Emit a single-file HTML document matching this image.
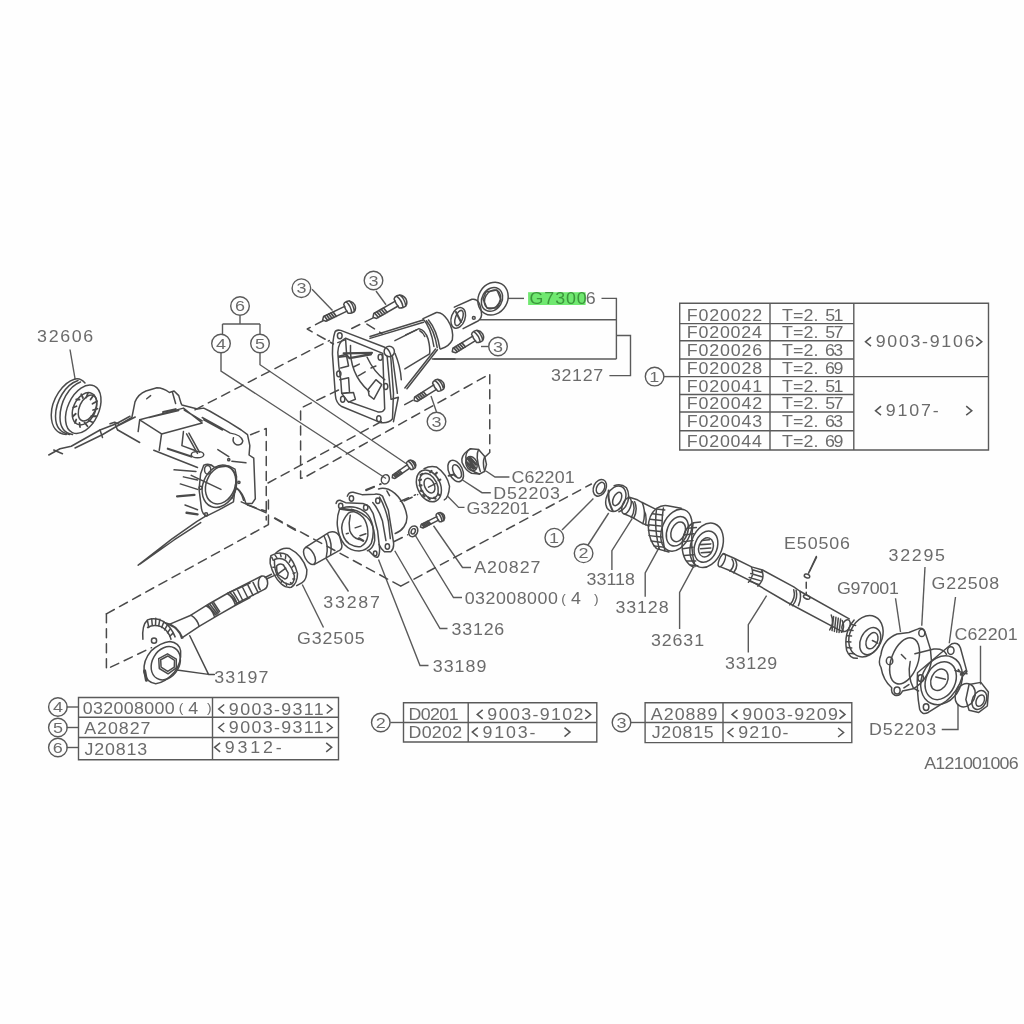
<!DOCTYPE html>
<html><head><meta charset="utf-8"><style>
html,body{margin:0;padding:0;background:#fff;}
svg{display:block;}
text{font-family:"Liberation Sans",sans-serif;}
.p *{vector-effect:non-scaling-stroke;}
</style></head><body>
<svg width="1024" height="1024" viewBox="0 0 1024 1024">
<rect width="1024" height="1024" fill="#fefefe"/>
<rect x="528.1" y="292.2" width="57.5" height="12.8" fill="#70e870"/>
<g fill="none" stroke="#5a5a5a" stroke-width="1.4">
<path d="M871.0,337.2 L865.5,341.8 L871.0,346.2" stroke="#555" stroke-width="1.5" fill="none"/>
<path d="M976.2,337.2 L981.8,341.8 L976.2,346.2" stroke="#555" stroke-width="1.5" fill="none"/>
<path d="M881.0,406.2 L875.5,410.8 L881.0,415.2" stroke="#555" stroke-width="1.5" fill="none"/>
<path d="M966.2,406.2 L971.8,410.8 L966.2,415.2" stroke="#555" stroke-width="1.5" fill="none"/>
<path d="M224.2,704.5 L218.7,709.0 L224.2,713.5" stroke="#555" stroke-width="1.5" fill="none"/>
<path d="M326.7,704.5 L332.2,709.0 L326.7,713.5" stroke="#555" stroke-width="1.5" fill="none"/>
<path d="M224.2,723.0 L218.7,727.5 L224.2,732.0" stroke="#555" stroke-width="1.5" fill="none"/>
<path d="M326.7,723.0 L332.2,727.5 L326.7,732.0" stroke="#555" stroke-width="1.5" fill="none"/>
<path d="M220.1,742.8 L214.6,747.3 L220.1,751.8" stroke="#555" stroke-width="1.5" fill="none"/>
<path d="M326.2,742.8 L331.7,747.3 L326.2,751.8" stroke="#555" stroke-width="1.5" fill="none"/>
<path d="M482.7,709.9 L477.2,714.4 L482.7,718.9" stroke="#555" stroke-width="1.5" fill="none"/>
<path d="M585.2,709.9 L590.7,714.4 L585.2,718.9" stroke="#555" stroke-width="1.5" fill="none"/>
<path d="M477.8,727.6 L472.3,732.1 L477.8,736.6" stroke="#555" stroke-width="1.5" fill="none"/>
<path d="M564.5,727.6 L570.0,732.1 L564.5,736.6" stroke="#555" stroke-width="1.5" fill="none"/>
<path d="M737.5,709.9 L732.0,714.4 L737.5,718.9" stroke="#555" stroke-width="1.5" fill="none"/>
<path d="M839.5,709.9 L845.0,714.4 L839.5,718.9" stroke="#555" stroke-width="1.5" fill="none"/>
<path d="M733.5,728.0 L728.0,732.5 L733.5,737.0" stroke="#555" stroke-width="1.5" fill="none"/>
<path d="M838.1,728.0 L843.6,732.5 L838.1,737.0" stroke="#555" stroke-width="1.5" fill="none"/>
<path d="M679.7,303.2H988.5V450H679.7Z"/>
<path d="M679.7,323.6H853.8"/>
<path d="M679.7,340.8H853.8"/>
<path d="M679.7,359H853.8"/>
<path d="M679.7,376.6H853.8"/>
<path d="M679.7,394.5H853.8"/>
<path d="M679.7,412H853.8"/>
<path d="M679.7,430.8H853.8"/>
<path d="M853.8,376.6H988.5"/>
<path d="M770,303.2V450"/>
<path d="M853.8,303.2V450"/>
<path d="M78.5,697.5H338.5V759.7H78.5Z"/>
<path d="M78.5,717.3H338.5"/>
<path d="M78.5,737.5H338.5"/>
<path d="M212.5,697.5V759.7"/>
<path d="M403.5,702.7H596.8V742H403.5Z"/>
<path d="M403.5,722.5H596.8"/>
<path d="M468.2,702.7V742"/>
<path d="M645.1,702.7H851.8V742.6H645.1Z"/>
<path d="M645.1,722.5H851.8"/>
<path d="M723,702.7V742.6"/>
<path d="M663.6,376.6H679.7"/>
<path d="M66.5,707H78.5"/>
<path d="M66.5,727.5H78.5"/>
<path d="M66.5,747.5H78.5"/>
<path d="M390.5,722.5H403.5"/>
<path d="M631,722.5H645.1"/>
<path d="M70,349.5L75,378.5"/>
<path d="M508,298.4H524"/>
<path d="M601.5,298.4H616.4V359"/>
<path d="M480,319.8H616.4"/>
<path d="M433.5,359H616.4"/>
<path d="M616.4,335.5H630.5V375.6H609.4"/>
<path d="M486,471L495,477H509.4"/>
<path d="M462.5,480L482,492.7H490.8"/>
<path d="M447.9,496.6L458.6,507.4H464.5"/>
<path d="M433.5,525.75L462.5,567.5H471"/>
<path d="M414.75,534.5L453.5,597.5H462"/>
<path d="M562,530L593.4,498.6"/>
<path d="M588,545L608.7,513"/>
<path d="M611.9,570V550.6L632.3,518.3"/>
<path d="M645.2,596.8V573L659.2,547.3"/>
<path d="M679.6,629V592.5L693.5,566.7"/>
<path d="M748.3,652.6V624.7L766.6,595.7"/>
<path d="M326,558.25L348.5,591.5"/>
<path d="M302.25,584.5L323.5,627.5"/>
<path d="M394.75,550.75L440,628.5H447.5"/>
<path d="M378.5,559.5L420,665.5H428.5"/>
<path d="M816.75,557L809.25,572"/>
<path d="M925,567L921.75,625.75"/>
<path d="M895.5,598.25L900.5,632"/>
<path d="M955.5,597L949.25,643.25"/>
<path d="M980.5,645.75V684.5"/>
<path d="M941.75,729.5H958V704.5"/>
<path d="M240,315.5V324"/>
<path d="M222.5,324H260"/>
<path d="M222.5,324V334"/>
<path d="M260,324V334"/>
<path d="M221,353V371L386,478.5"/>
<path d="M260,353V364.75L406,463.5"/>
<path d="M312,289.3L332.5,310.4"/>
<path d="M376,291L386,304.75"/>
<path d="M481,346.5H488.5"/>
<path d="M436.5,412L431,396"/>
<circle cx="301.4" cy="288.2" r="9.3"/>
<circle cx="373.5" cy="280.5" r="9.3"/>
<circle cx="498" cy="346.5" r="9.3"/>
<circle cx="436.5" cy="421.5" r="9.3"/>
<circle cx="240" cy="306" r="9.3"/>
<circle cx="221" cy="343.5" r="9.3"/>
<circle cx="260" cy="343.5" r="9.3"/>
<circle cx="654.6" cy="376.6" r="9.3"/>
<circle cx="554.3" cy="537.7" r="9.3"/>
<circle cx="583.6" cy="553.3" r="9.3"/>
<circle cx="57.9" cy="707" r="9.3"/>
<circle cx="57.9" cy="727.5" r="9.3"/>
<circle cx="57.9" cy="747.5" r="9.3"/>
<circle cx="380.8" cy="722.5" r="9.3"/>
<circle cx="621.5" cy="722.5" r="9.3"/>
</g>
<g fill="none" stroke="#4a4a4a" stroke-width="1.5" stroke-linejoin="round" stroke-linecap="round" class="p">
<symbol id="bolt" overflow="visible">
<path d="M0,0 L2.5,-2.8 L27,-2.8 M0,0 L2.5,2.8 L27,2.8"/>
<path d="M3.5,-2.6 L4.5,2.6 M6,-2.7 L7,2.7 M8.5,-2.7 L9.5,2.7 M11,-2.7 L12,2.7 M13.5,-2.7 L14.5,2.7" stroke-width="1.7"/>
<path d="M27,-5.2 Q28,-6.6 31,-6.6 L34,-5.8 Q37.2,-3 37.2,0.5 Q36.8,5 33.5,6.6 L30.5,6.6 Q28,6 27,5 Q26,0 27,-5.2 Z M30.5,-6.4 Q33.2,0 30.5,6.5 M33.8,-5.8 Q36.2,0 33.6,6.4"/>
</symbol>
<g transform="translate(0,320) scale(0.25)">
<ellipse cx="333" cy="357" rx="62" ry="103" transform="rotate(25 333 357)"/>
<ellipse cx="338" cy="355" rx="44" ry="68" transform="rotate(25 338 355)"/>
<ellipse cx="350" cy="352" rx="32" ry="55" transform="rotate(25 350 352)"/>
<path d="M300,236 C250,250 205,320 205,380 C205,430 230,455 265,458"/>
<path d="M312,242 C262,258 222,325 222,385 C222,430 245,452 278,458"/>
<path d="M322,248 C274,265 240,330 240,390 C240,432 258,452 290,458"/>
<path d="M300,236 C315,232 330,240 340,252"/>
<path d="M352,292 L345,310 M375,300 L362,318 M388,325 L370,335 M390,355 L372,360 M385,385 L365,385 M372,410 L355,402 M350,425 L338,410 M320,428 L318,412 M300,412 L305,398 M292,385 L303,375 M293,350 L306,345 M305,318 L318,318 M325,297 L332,312" stroke-width="1.8"/>
<path d="M195,540 L240,515 L285,505 L400,440 L465,415 L520,385"/>
<path d="M300,512 L409,459 L465,426 L541,388"/>
<path d="M215,520 L250,535 M400,440 L410,470 M460,415 L470,440"/>
</g>
<g transform="translate(110,380) scale(0.15625)">
<path d="M0,280 L30,270 L60,285 L140,240 L160,140 Q180,90 230,70 L300,50 Q340,50 380,80 L410,70 L440,100 L455,150 L460,160 L560,185 L600,180 L640,200 L760,270 L840,320 L880,350 L895,420 L890,480 L920,500 L930,760 L910,790 L870,790 Q850,720 810,690 Q790,740 780,760"/>
<path d="M400,80 L420,150"/>
<path d="M190,255 L470,180 L590,275 L330,345 Z M250,240 L440,195 M475,192 L590,262"/>
<path d="M340,205 L420,187" stroke-width="2.2"/>
<path d="M190,255 L180,330 M330,345 L315,450 M470,330 L460,420 L540,450"/>
<path d="M590,240 L700,300 L770,340 Q840,350 850,390 Q845,420 810,415 Q780,400 790,370 M600,255 L720,320"/>
<path d="M50,320 L190,400 M280,450 L560,560"/>
<path d="M490,345 L560,470 M505,340 L572,462"/>
<ellipse cx="560" cy="478" rx="40" ry="20"/>
<path d="M370,440 L520,490" stroke-width="2.2"/>
<path d="M410,575 L550,585 M450,665 L560,700 M480,800 L560,830 M470,620 L560,640"/>
<path d="M430,745 L540,735 M490,850 L560,860" stroke-width="2.4"/>
<ellipse cx="700" cy="680" rx="105" ry="140" transform="rotate(22 700 680)"/>
<ellipse cx="708" cy="672" rx="92" ry="125" transform="rotate(22 708 672)"/>
<path d="M600,545 Q640,530 670,560 L760,550 L800,570 L810,620 L790,780 L700,830 L620,870 Q590,860 585,820 L570,700 L580,600 Z"/>
<ellipse cx="625" cy="575" rx="20" ry="28"/>
<circle cx="580" cy="690" r="10"/>
<circle cx="615" cy="860" r="10"/>
<circle cx="825" cy="655" r="7"/>
<circle cx="760" cy="510" r="7"/>
<path d="M520,610 L710,700 M690,445 L760,490 M780,520 L870,530 M800,690 Q835,700 855,770 M840,780 L1000,850"/>
<path d="M900,350 L1000,310 L1000,896 M880,800 L1000,840" stroke-dasharray="9 6"/>
<path d="M235,120 L260,100" />
</g>
<g transform="translate(320,480) scale(0.09766)">
<path d="M200,300 Q170,380 178,470 Q190,590 250,660 Q310,725 400,728 Q480,725 525,650 Q555,560 540,470 Q520,380 470,335 Q400,275 300,275 Q230,280 200,300 Z"/>
<path d="M290,340 Q225,410 222,490 Q228,600 300,655 Q360,690 420,680 Q478,650 490,570 Q495,480 460,410 Q420,345 350,325 Q315,322 290,340 Z"/>
<path d="M320,300 Q450,330 515,420 Q565,510 560,620 Q545,700 485,725"/>
<path d="M310,360 Q290,440 305,520 Q330,590 400,610 M360,490 L420,470 M410,570 L470,550 M270,550 L290,545"/>
<path d="M215,295 L335,312 M398,598 L442,622" stroke-width="2.4"/>
<path d="M165,240 Q170,205 205,208 L262,232 L440,240 Q480,250 505,275 L545,345 L590,520 L610,700 Q612,770 590,790 Q560,795 545,770 L500,725"/>
<ellipse cx="212" cy="265" rx="22" ry="28"/>
<ellipse cx="468" cy="282" rx="22" ry="28"/>
<ellipse cx="565" cy="752" rx="18" ry="24"/>
<path d="M280,165 Q295,120 340,125 L430,150 L560,145 Q610,140 640,165 L700,310 L750,620 Q765,700 725,735 L660,735 Q620,700 605,660"/>
<ellipse cx="322" cy="190" rx="22" ry="28"/>
<ellipse cx="592" cy="212" rx="22" ry="28"/>
<ellipse cx="690" cy="680" rx="22" ry="28"/>
<path d="M540,230 Q600,300 640,420 L675,620 M610,175 Q670,280 700,420 L720,600"/>
<path d="M600,92 Q640,75 700,95 C800,140 872,250 890,370 C896,450 845,520 770,548 M685,112 L712,160"/>
<path d="M470,100 L620,40" stroke-dasharray="9 6"/>
<path d="M860,215 L1000,150" stroke-dasharray="9 6"/>
<path d="M760,630 L900,560" stroke-dasharray="9 6"/>
</g>
<g transform="translate(250,440) scale(0.21484)">
<path d="M258,500 L368,430 Q400,420 418,450 L428,492 Q428,512 408,518 L298,580"/>
<ellipse cx="277" cy="540" rx="22" ry="43" transform="rotate(-28 277 540)"/>
<path d="M345,448 Q368,490 355,545 M362,440 Q385,480 375,535"/>
<ellipse cx="760" cy="425" rx="20" ry="26" transform="rotate(25 760 425)"/>
<ellipse cx="760" cy="425" rx="9" ry="13" transform="rotate(25 760 425)"/>
<ellipse cx="630" cy="183" rx="18" ry="22" transform="rotate(25 630 183)"/>
<path d="M540,235 L610,205" stroke-dasharray="9 6"/>
<path d="M70,640 L100,625 M700,285 L770,255" stroke-dasharray="9 6"/>
</g>
<g transform="translate(410,445) scale(0.08789)">
<path d="M590,160 Q600,95 690,42 L780,52 L850,130 L870,220 L850,300 L790,330 L700,322 Q630,290 592,200 Z"/>
<path d="M690,42 Q620,80 640,180 Q660,290 790,330 M780,52 Q740,120 800,300 M850,130 Q820,200 850,300"/>
<ellipse cx="700" cy="212" rx="62" ry="85" transform="rotate(-22 700 212)"/>
<path d="M660,160 L740,260 M650,200 L720,270 M680,140 L750,220 M700,180 L690,250" stroke-width="2.5"/>
<ellipse cx="520" cy="295" rx="78" ry="130" transform="rotate(-25 520 295)"/>
<ellipse cx="535" cy="300" rx="42" ry="82" transform="rotate(-25 535 300)"/>
<path d="M440,350 L500,335 L520,355" stroke-width="2"/>
<ellipse cx="215" cy="465" rx="130" ry="190" transform="rotate(-25 215 465)"/>
<path d="M160,270 Q230,230 300,250 Q420,330 450,470 Q440,600 390,625"/>
<ellipse cx="215" cy="465" rx="95" ry="150" transform="rotate(-25 215 465)"/>
<ellipse cx="222" cy="462" rx="55" ry="88" transform="rotate(-25 222 462)"/>
<path d="M120,340 L140,330 M105,400 L125,395 M110,460 L130,460 M120,520 L140,525 M150,570 L165,585 M210,600 L225,615 M275,600 L290,610 M320,560 L335,570 M325,400 L345,395 M290,330 L305,315 M230,310 L245,295" stroke-width="2.2"/>
<path d="M210,480 L290,440" />
</g>
<g transform="translate(260,540) scale(0.078125)">
<path d="M140,200 Q250,140 350,190 Q440,270 480,430 Q480,560 400,605 Q330,615 270,560 Q170,470 130,300 Q128,230 140,200 Z"/>
<path d="M200,170 Q280,90 380,110 Q540,190 600,380 Q600,510 540,545 L470,585"/>
<path d="M185,250 Q260,215 330,265 Q410,340 440,460 Q440,560 380,570 Q300,560 230,470 Q180,380 185,250 Z"/>
<path d="M215,330 Q250,290 300,320 L360,420 Q360,490 320,500 L240,450 Q205,400 215,330 Z"/>
<path d="M235,430 L330,360"/>
<path d="M150,220 L170,260 M190,190 L215,225 M260,175 L270,215 M330,200 L325,240 M390,250 L375,285 M430,330 L410,350 M450,420 L425,430 M445,500 L420,500 M410,560 L390,545 M340,580 L335,555 M270,540 L285,520 M200,450 L225,440 M165,350 L190,350" stroke-width="1.5"/>
</g>
<g transform="translate(580,470) scale(0.13672)">
<ellipse cx="145" cy="130" rx="45" ry="64" transform="rotate(25 145 130)"/>
<ellipse cx="150" cy="132" rx="28" ry="44" transform="rotate(25 150 132)"/>
<ellipse cx="262" cy="210" rx="68" ry="98" transform="rotate(25 262 210)"/>
<path d="M250,115 Q300,95 340,130 Q365,170 350,230 Q330,290 285,305"/>
<ellipse cx="272" cy="212" rx="28" ry="52" transform="rotate(25 272 212)"/>
<path d="M210,150 Q200,220 240,300" stroke-width="2"/>
<ellipse cx="340" cy="262" rx="30" ry="62" transform="rotate(20 340 262)"/>
<path d="M355,198 L420,218 L455,238 L545,282 M325,322 L380,345 L460,392 L505,410"/>
<path d="M385,232 Q410,290 375,348 M400,232 Q425,290 393,352 M455,238 Q485,310 460,392 M470,300 Q490,330 480,400"/>
<path d="M500,420 Q500,330 560,280 Q600,255 640,262 L740,280 M500,420 Q505,520 560,575 L650,600"/>
<ellipse cx="705" cy="440" rx="105" ry="160" transform="rotate(22 705 440)"/>
<ellipse cx="712" cy="448" rx="75" ry="112" transform="rotate(22 712 448)"/>
<ellipse cx="718" cy="452" rx="50" ry="75" transform="rotate(22 718 452)"/>
<path d="M560,285 L620,292 M530,320 L605,330 M510,360 L595,370 M500,400 L590,410 M500,440 L590,450 M505,480 L595,490 M520,520 L600,530 M540,555 L615,565"/>
<path d="M560,285 Q540,420 580,580 M610,278 Q585,420 620,590"/>
</g>
<g transform="translate(680,520) scale(0.13672)">
<path d="M100,20 Q20,60 15,190 Q20,310 100,345"/>
<ellipse cx="195" cy="185" rx="115" ry="168" transform="rotate(20 195 185)"/>
<ellipse cx="190" cy="195" rx="82" ry="118" transform="rotate(20 190 195)"/>
<ellipse cx="190" cy="200" rx="52" ry="72" transform="rotate(20 190 200)"/>
<path d="M160,150 L215,145 M150,180 L225,175 M150,210 L225,205 M155,240 L222,235" stroke-width="1.6"/>
<path d="M100,20 L150,15 M55,60 L120,55 M30,110 L100,100 M20,160 L95,150 M20,210 L95,200 M30,260 L100,255 M50,300 L115,300 M75,330 L130,335"/>
<path d="M95,30 Q70,190 110,340"/>
</g>
<g transform="translate(780,590) scale(0.21484)">
<ellipse cx="400" cy="215" rx="75" ry="100" transform="rotate(25 400 215)"/>
<path d="M345,140 Q295,200 310,280 Q325,320 360,318 M330,160 L352,165 M318,185 L340,188 M310,212 L333,214 M308,240 L330,242 M312,268 L334,270 M324,295 L345,297" />
<ellipse cx="420" cy="238" rx="45" ry="66" transform="rotate(25 420 238)"/>
<ellipse cx="428" cy="236" rx="25" ry="40" transform="rotate(25 428 236)"/>
<path d="M470,300 Q480,230 545,205 L600,198 L640,182 Q665,170 675,195 L700,275 L705,330 Q690,420 620,460 L570,470 Q560,495 535,490 Q515,480 520,455 Q480,420 470,360 Q455,340 470,300 Z"/>
<ellipse cx="510" cy="330" rx="15" ry="18"/>
<ellipse cx="660" cy="200" rx="14" ry="17"/>
<ellipse cx="545" cy="468" rx="14" ry="16"/>
<ellipse cx="580" cy="330" rx="62" ry="112" transform="rotate(20 580 330)"/>
<path d="M628,297 L716,275 Q760,270 775,300"/>
<path d="M606,333 Q592,400 621,457 L645,470"/>
<path d="M640,385 L800,250 Q830,240 840,270 L870,380 L850,400 Q830,470 770,520 L690,570 Q660,585 650,555 Q635,470 640,385 Z"/>
<ellipse cx="795" cy="282" rx="15" ry="18"/>
<ellipse cx="655" cy="410" rx="13" ry="16"/>
<ellipse cx="680" cy="545" rx="13" ry="16"/>
<ellipse cx="752" cy="420" rx="92" ry="118" transform="rotate(25 752 420)"/>
<ellipse cx="748" cy="422" rx="68" ry="92" transform="rotate(25 748 422)"/>
<ellipse cx="742" cy="418" rx="38" ry="52" transform="rotate(25 742 418)"/>
<path d="M725,405 L770,415" />
<path d="M815,375 L870,390 M830,370 L850,400 M840,395 L865,375" stroke-width="1.6"/>
<ellipse cx="862" cy="490" rx="45" ry="56" transform="rotate(25 862 490)"/>
<path d="M880,440 L935,430 L970,475 L965,540 L925,570 L880,560 L865,510 Z"/>
<ellipse cx="928" cy="512" rx="32" ry="46" transform="rotate(25 928 512)"/>
<ellipse cx="932" cy="515" rx="18" ry="28" transform="rotate(25 932 515)"/>
<path d="M565,300 L585,320 M600,440 L570,460 M430,235 L470,255" stroke-dasharray="6 4"/>
</g>
<g transform="translate(700,540) scale(0.15625)">
<ellipse cx="140" cy="130" rx="17" ry="44" transform="rotate(22 140 130)"/>
<path d="M148,86 L215,115 L330,172 L400,192 L600,300 L640,328 L955,505 M132,172 L190,195 L330,265 L560,400 L880,570 L915,588"/>
<path d="M205,122 Q230,160 192,200 M225,125 Q250,165 215,210 M640,328 Q650,380 630,420"/>
<path d="M330,175 Q350,230 310,270 M395,192 Q420,250 370,295 M335,190 L400,210 M325,215 L395,235 M315,240 L385,260 M320,265 L375,285"/>
<path d="M600,318 Q615,370 575,415 M615,322 Q630,375 592,420"/>
<ellipse cx="683" cy="365" rx="22" ry="12" transform="rotate(25 683 365)"/>
<ellipse cx="685" cy="230" rx="18" ry="12" transform="rotate(20 685 230)"/>
<path d="M745,105 L695,212"/>
<path d="M680,270 L680,345" stroke-dasharray="6 4"/>
<ellipse cx="935" cy="548" rx="24" ry="40" transform="rotate(22 935 548)"/>
<path d="M840,480 Q860,530 830,575 M855,490 L845,580 M870,495 L860,585 M885,500 L875,590 M900,505 L890,592" stroke-width="1.5"/>
<path d="M910,515 Q930,560 905,590"/>
</g>
<use href="#bolt" transform="translate(322.6,319.9) rotate(-25.6) scale(0.956)"/>
<use href="#bolt" transform="translate(373,317.25) rotate(-30.0) scale(1.014)"/>
<use href="#bolt" transform="translate(452.25,351.75) rotate(-31.3) scale(0.949)"/>
<use href="#bolt" transform="translate(414,400.5) rotate(-32.2) scale(0.926)"/>
<use href="#bolt" transform="translate(392.25,477.75) rotate(-34.6) scale(0.738)"/>
<use href="#bolt" transform="translate(420.5,527) rotate(-26.7) scale(0.711)"/>

<path d="M454.3,307.1 L471.9,299.3 Q480.7,297.5 481.6,314.9 Q481,320 476,322 L463.1,328.6"/>
<ellipse cx="458.2" cy="317.9" rx="6.8" ry="10.7" transform="rotate(20 458.2 317.9)"/>
<ellipse cx="459" cy="318" rx="3.5" ry="8" transform="rotate(20 459 318)"/>
<path d="M456,312 L461,322" stroke-width="2"/>
<circle cx="473.8" cy="317.9" r="1.4"/>
<ellipse cx="493" cy="298.6" rx="14.5" ry="17" transform="rotate(30 493 298.6)"/>
<ellipse cx="492" cy="299.4" rx="10" ry="12.5" transform="rotate(30 492 299.4)"/>
<ellipse cx="492.5" cy="299.4" rx="7.5" ry="10" transform="rotate(30 492.5 299.4)"/>
<path d="M486,292 L497,290 L501,300 L497,308 L487,308 L483,299 Z" stroke-width="1.5"/>
<g stroke-dasharray="9 6">
<path d="M195,409.8 L329.4,340.5"/>
<path d="M338.5,390 L300.6,408.1 V478.4 L307,476.5"/>
<path d="M268,483 L386,419"/>
<path d="M307,476 L489.75,374 V452.5 L485,457"/>
<path d="M323.5,320.5 L307.25,329 L333.5,344"/>
<path d="M373.2,317.8 L350.4,329.2 M366.9,324.1 L382,333.6"/>
<path d="M412.6,400.3 L401.2,406.6"/>
<path d="M400.8,586.2 L274.8,518 M400.8,586.2 L591.4,484"/>
</g>

<g transform="translate(325,300) scale(0.12695)">
<path d="M845,465 L1024,465"/>
</g>
<g transform="translate(370,305) scale(0.083)">
<path d="M0,380 L640,180 M0,402 L645,208"/>
<path d="M420,1000 L790,530 M445,1010 L812,540"/>
<path d="M640,165 L800,90 Q870,80 935,180 Q1012,300 992,420 Q955,500 850,530"/>
<path d="M640,168 Q735,270 770,500 M680,190 Q775,300 810,515 M705,180 Q805,300 842,525"/>
<path d="M300,430 L590,285 Q665,300 700,410 Q728,520 718,590 L420,770"/>
<path d="M430,360 L560,300 M600,310 Q640,330 660,380"/>
<circle cx="232" cy="560" r="62"/>
</g>
<g transform="translate(330,325) scale(0.09766)">
<path d="M50,75 Q60,45 110,55 L560,228 Q600,240 620,300 L650,700 L640,960 Q600,1010 520,1000 L120,835 Q60,800 55,720 L25,300 Q25,150 50,75 Z"/>
<path d="M160,135 L540,290 L560,860 Q540,900 490,890 L180,780 L120,700 L110,560 L90,420 L80,280 Q85,170 160,135 Z"/>
<path d="M80,180 L160,150 L170,300 L90,320 M90,330 L170,320 L190,420 L110,440 M100,560 L190,540 L200,690 L120,700 M150,700 L240,690 L260,760 L190,790"/>
<path d="M210,210 Q195,500 400,680 M380,330 Q450,480 560,560"/>
<path d="M390,660 L470,560 L530,610 L450,760 L400,720 Z"/>
<path d="M140,290 L430,285 M200,340 L420,300 M160,300 L200,340" stroke-width="2.2"/>
<path d="M290,520 L360,480 M420,440 L470,420 M240,430 L300,400"/>
<ellipse cx="100" cy="110" rx="24" ry="30"/>
<ellipse cx="90" cy="500" rx="22" ry="30"/>
<ellipse cx="130" cy="760" rx="22" ry="30"/>
<ellipse cx="500" cy="960" rx="22" ry="30"/>
<ellipse cx="570" cy="630" rx="22" ry="30"/>
<ellipse cx="515" cy="330" rx="22" ry="30"/>
<path d="M585,320 L625,760 M640,325 L690,700 M665,290 Q720,420 730,560"/>
<path d="M630,760 L700,740 L650,990"/>
</g>
<g transform="translate(90,500) scale(0.20508)">
<path d="M80,555 L870,120" stroke-dasharray="9 6"/>
<path d="M80,555 L80,825 L300,720" stroke-dasharray="9 6"/>
<path d="M870,0 L870,120" stroke-dasharray="9 6"/>
<path d="M900,90 L1024,160" stroke-dasharray="9 6"/>
<path d="M860,385 L895,370" stroke-dasharray="9 6"/>
<path d="M235,318 L400,190 L520,105 L570,75 M245,312 L410,195 L540,110"/>
<path d="M670,455 L835,372 C855,365 868,385 866,410 C864,425 858,432 850,436 L712,505"/>
<path d="M835,372 C820,380 815,420 830,438"/>
<path d="M690,470 L715,500 M700,450 L730,500 M720,440 L745,490 M745,428 L770,478 M770,415 L795,465 M795,402 L820,452"/>
</g>
<g transform="translate(130,590) scale(0.11719)">
<path d="M330,295 L520,215 L680,115 L830,30 L1024,-60 M440,410 L590,310 L760,210 L900,130 L1024,65"/>
<path d="M520,215 Q575,250 590,310 M830,30 Q880,60 900,130 M850,20 Q895,55 915,120"/>
<path d="M650,135 Q700,160 720,225 M665,128 L735,215 M680,120 L745,205 M700,112 L755,195 M715,108 L765,185" stroke-width="1.6"/>
<path d="M110,420 Q100,300 150,255 Q210,230 280,265 Q350,310 385,400"/>
<path d="M150,320 Q200,290 270,315 Q330,350 350,420"/>
<path d="M150,265 L160,320 M185,245 L190,300 M220,240 L218,295 M255,250 L245,305 M290,270 L270,320 M320,295 L295,340 M345,330 L320,365 M365,370 L340,395"/>
<path d="M300,280 Q400,295 450,410 M330,295 Q420,330 440,410"/>
<circle cx="205" cy="432" r="22"/>
<path d="M120,700 Q110,600 180,520 Q260,450 340,440 Q420,450 432,520 Q440,620 380,700 Q300,790 220,800 Q140,790 120,700 Z"/>
<ellipse cx="305" cy="625" rx="115" ry="150" transform="rotate(30 305 625)"/>
<path d="M245,585 L320,545 L395,590 L395,665 L325,715 L250,670 Z"/>
<path d="M262,595 L322,563 L380,600 L378,658 L322,695 L265,658 Z"/>
<path d="M125,690 L140,770" stroke-width="3"/>
<path d="M510,390 L670,720 L400,682 M670,720 L720,720"/>
</g>
</g>
<g opacity="0.995">
<text transform="translate(37.12,342.43) scale(1.1,1)" font-size="16.20" letter-spacing="1.50" fill="#6a6a6a" >32606</text>
<text transform="translate(550.92,380.88) scale(1.1,1)" font-size="16.20" letter-spacing="0.62" fill="#6a6a6a" >32127</text>
<text transform="translate(529.60,304.33) scale(1.1,1)" font-size="16.20" letter-spacing="0.82" fill="#3c963c" >G7300</text>
<text transform="translate(585.73,304.33) scale(1.1,1)" font-size="16.20" letter-spacing="0.00" fill="#6a6a6a" >6</text>
<text transform="translate(511.40,482.50) scale(1.1,1)" font-size="16.20" letter-spacing="0.16" fill="#6a6a6a" >C62201</text>
<text transform="translate(493.24,499.03) scale(1.1,1)" font-size="16.20" letter-spacing="0.79" fill="#6a6a6a" >D52203</text>
<text transform="translate(466.50,514.43) scale(1.1,1)" font-size="16.20" letter-spacing="-0.03" fill="#6a6a6a" >G32201</text>
<text transform="translate(474.17,573.18) scale(1.1,1)" font-size="16.20" letter-spacing="0.89" fill="#6a6a6a" >A20827</text>
<text transform="translate(464.70,603.73) scale(1.1,1)" font-size="16.20" letter-spacing="0.45" fill="#6a6a6a" >032008000</text>
<text transform="translate(561.15,602.55) scale(1.1,1)" font-size="12.50" letter-spacing="0.00" fill="#6a6a6a" >(</text>
<text transform="translate(570.90,603.73) scale(1.1,1)" font-size="16.20" letter-spacing="0.00" fill="#6a6a6a" >4</text>
<text transform="translate(593.92,602.55) scale(1.1,1)" font-size="12.50" letter-spacing="0.00" fill="#6a6a6a" >)</text>
<text transform="translate(323.32,607.95) scale(1.1,1)" font-size="16.20" letter-spacing="1.60" fill="#6a6a6a" >33287</text>
<text transform="translate(297.10,643.58) scale(1.1,1)" font-size="16.20" letter-spacing="0.77" fill="#6a6a6a" >G32505</text>
<text transform="translate(451.57,634.70) scale(1.1,1)" font-size="16.20" letter-spacing="0.72" fill="#6a6a6a" >33126</text>
<text transform="translate(432.82,671.95) scale(1.1,1)" font-size="16.20" letter-spacing="0.90" fill="#6a6a6a" >33189</text>
<text transform="translate(214.32,683.08) scale(1.1,1)" font-size="16.20" letter-spacing="1.03" fill="#6a6a6a" >33197</text>
<text transform="translate(784.04,549.20) scale(1.1,1)" font-size="16.20" letter-spacing="0.83" fill="#6a6a6a" >E50506</text>
<text transform="translate(888.57,560.70) scale(1.1,1)" font-size="16.20" letter-spacing="1.56" fill="#6a6a6a" >32295</text>
<text transform="translate(837.10,594.45) scale(1.1,1)" font-size="16.20" letter-spacing="-0.30" fill="#6a6a6a" >G97001</text>
<text transform="translate(931.60,589.45) scale(1.1,1)" font-size="16.20" letter-spacing="0.77" fill="#6a6a6a" >G22508</text>
<text transform="translate(954.60,640.33) scale(1.1,1)" font-size="16.20" letter-spacing="0.11" fill="#6a6a6a" >C62201</text>
<text transform="translate(869.04,734.70) scale(1.1,1)" font-size="16.20" letter-spacing="0.88" fill="#6a6a6a" >D52203</text>
<text transform="translate(924.22,769.45) scale(1.1,1)" font-size="16.20" letter-spacing="-0.66" fill="#6a6a6a" >A121001006</text>
<text transform="translate(586.52,585.18) scale(1.1,1)" font-size="16.20" letter-spacing="0.05" fill="#6a6a6a" >33118</text>
<text transform="translate(615.52,613.08) scale(1.1,1)" font-size="16.20" letter-spacing="0.80" fill="#6a6a6a" >33128</text>
<text transform="translate(650.92,645.88) scale(1.1,1)" font-size="16.20" letter-spacing="0.82" fill="#6a6a6a" >32631</text>
<text transform="translate(725.12,669.48) scale(1.1,1)" font-size="16.20" letter-spacing="0.56" fill="#6a6a6a" >33129</text>
<text transform="translate(686.84,320.78) scale(1.1,1)" font-size="16.20" letter-spacing="0.77" fill="#6a6a6a" >F020022</text>
<text transform="translate(782.10,320.78) scale(1.1,1)" font-size="16.20" letter-spacing="0.04" fill="#6a6a6a" >T=2.</text>
<text transform="translate(825.29,320.78) scale(1.1,1)" font-size="16.20" letter-spacing="-1.58" fill="#6a6a6a" >51</text>
<text transform="translate(686.84,338.18) scale(1.1,1)" font-size="16.20" letter-spacing="0.72" fill="#6a6a6a" >F020024</text>
<text transform="translate(782.10,338.18) scale(1.1,1)" font-size="16.20" letter-spacing="0.04" fill="#6a6a6a" >T=2.</text>
<text transform="translate(825.29,338.18) scale(1.1,1)" font-size="16.20" letter-spacing="-1.56" fill="#6a6a6a" >57</text>
<text transform="translate(686.84,356.08) scale(1.1,1)" font-size="16.20" letter-spacing="0.76" fill="#6a6a6a" >F020026</text>
<text transform="translate(782.10,356.08) scale(1.1,1)" font-size="16.20" letter-spacing="0.04" fill="#6a6a6a" >T=2.</text>
<text transform="translate(825.10,356.08) scale(1.1,1)" font-size="16.20" letter-spacing="-1.48" fill="#6a6a6a" >63</text>
<text transform="translate(686.84,373.63) scale(1.1,1)" font-size="16.20" letter-spacing="0.76" fill="#6a6a6a" >F020028</text>
<text transform="translate(782.10,373.63) scale(1.1,1)" font-size="16.20" letter-spacing="0.04" fill="#6a6a6a" >T=2.</text>
<text transform="translate(825.10,373.63) scale(1.1,1)" font-size="16.20" letter-spacing="-1.43" fill="#6a6a6a" >69</text>
<text transform="translate(686.84,391.93) scale(1.1,1)" font-size="16.20" letter-spacing="0.77" fill="#6a6a6a" >F020041</text>
<text transform="translate(782.10,391.93) scale(1.1,1)" font-size="16.20" letter-spacing="0.04" fill="#6a6a6a" >T=2.</text>
<text transform="translate(825.29,391.93) scale(1.1,1)" font-size="16.20" letter-spacing="-1.58" fill="#6a6a6a" >51</text>
<text transform="translate(686.84,409.23) scale(1.1,1)" font-size="16.20" letter-spacing="0.77" fill="#6a6a6a" >F020042</text>
<text transform="translate(782.10,409.23) scale(1.1,1)" font-size="16.20" letter-spacing="0.04" fill="#6a6a6a" >T=2.</text>
<text transform="translate(825.29,409.23) scale(1.1,1)" font-size="16.20" letter-spacing="-1.56" fill="#6a6a6a" >57</text>
<text transform="translate(686.84,427.28) scale(1.1,1)" font-size="16.20" letter-spacing="0.76" fill="#6a6a6a" >F020043</text>
<text transform="translate(782.10,427.28) scale(1.1,1)" font-size="16.20" letter-spacing="0.04" fill="#6a6a6a" >T=2.</text>
<text transform="translate(825.10,427.28) scale(1.1,1)" font-size="16.20" letter-spacing="-1.48" fill="#6a6a6a" >63</text>
<text transform="translate(686.84,446.68) scale(1.1,1)" font-size="16.20" letter-spacing="0.72" fill="#6a6a6a" >F020044</text>
<text transform="translate(782.10,446.68) scale(1.1,1)" font-size="16.20" letter-spacing="0.04" fill="#6a6a6a" >T=2.</text>
<text transform="translate(825.10,446.68) scale(1.1,1)" font-size="16.20" letter-spacing="-1.43" fill="#6a6a6a" >69</text>
<text transform="translate(875.66,347.33) scale(1.1,1)" font-size="16.20" letter-spacing="1.55" fill="#6a6a6a" >9003-9106</text>
<text transform="translate(885.66,416.33) scale(1.1,1)" font-size="16.20" letter-spacing="1.72" fill="#6a6a6a" >9107-</text>
<text transform="translate(82.80,713.63) scale(1.1,1)" font-size="16.20" letter-spacing="0.31" fill="#6a6a6a" >032008000</text>
<text transform="translate(178.65,712.35) scale(1.1,1)" font-size="12.50" letter-spacing="0.00" fill="#6a6a6a" >(</text>
<text transform="translate(188.25,713.63) scale(1.1,1)" font-size="16.20" letter-spacing="0.00" fill="#6a6a6a" >4</text>
<text transform="translate(206.92,712.35) scale(1.1,1)" font-size="12.50" letter-spacing="0.00" fill="#6a6a6a" >)</text>
<text transform="translate(84.27,734.33) scale(1.1,1)" font-size="16.20" letter-spacing="0.87" fill="#6a6a6a" >A20827</text>
<text transform="translate(84.52,754.53) scale(1.1,1)" font-size="16.20" letter-spacing="0.75" fill="#6a6a6a" >J20813</text>
<text transform="translate(228.86,714.58) scale(1.1,1)" font-size="16.20" letter-spacing="1.25" fill="#6a6a6a" >9003-9311</text>
<text transform="translate(228.86,733.03) scale(1.1,1)" font-size="16.20" letter-spacing="1.25" fill="#6a6a6a" >9003-9311</text>
<text transform="translate(224.76,752.88) scale(1.1,1)" font-size="16.20" letter-spacing="2.60" fill="#6a6a6a" >9312-</text>
<text transform="translate(408.54,719.98) scale(1.1,1)" font-size="16.20" letter-spacing="-0.56" fill="#6a6a6a" >D0201</text>
<text transform="translate(487.36,719.98) scale(1.1,1)" font-size="16.20" letter-spacing="1.25" fill="#6a6a6a" >9003-9102</text>
<text transform="translate(408.54,737.68) scale(1.1,1)" font-size="16.20" letter-spacing="0.26" fill="#6a6a6a" >D0202</text>
<text transform="translate(482.46,737.68) scale(1.1,1)" font-size="16.20" letter-spacing="1.67" fill="#6a6a6a" >9103-</text>
<text transform="translate(650.67,719.93) scale(1.1,1)" font-size="16.20" letter-spacing="0.99" fill="#6a6a6a" >A20889</text>
<text transform="translate(742.16,719.93) scale(1.1,1)" font-size="16.20" letter-spacing="1.19" fill="#6a6a6a" >9003-9209</text>
<text transform="translate(651.72,738.08) scale(1.1,1)" font-size="16.20" letter-spacing="0.65" fill="#6a6a6a" >J20815</text>
<text transform="translate(738.16,738.08) scale(1.1,1)" font-size="16.20" letter-spacing="1.10" fill="#6a6a6a" >9210-</text>
<text transform="translate(296.45,293.36) scale(1.2,1)" font-size="15.00" letter-spacing="0.00" fill="#6a6a6a" >3</text>
<text transform="translate(368.55,285.66) scale(1.2,1)" font-size="15.00" letter-spacing="0.00" fill="#6a6a6a" >3</text>
<text transform="translate(493.05,351.66) scale(1.2,1)" font-size="15.00" letter-spacing="0.00" fill="#6a6a6a" >3</text>
<text transform="translate(431.55,426.66) scale(1.2,1)" font-size="15.00" letter-spacing="0.00" fill="#6a6a6a" >3</text>
<text transform="translate(234.93,311.16) scale(1.2,1)" font-size="15.00" letter-spacing="0.00" fill="#6a6a6a" >6</text>
<text transform="translate(216.05,348.66) scale(1.2,1)" font-size="15.00" letter-spacing="0.00" fill="#6a6a6a" >4</text>
<text transform="translate(255.01,348.66) scale(1.2,1)" font-size="15.00" letter-spacing="0.00" fill="#6a6a6a" >5</text>
<text transform="translate(649.35,381.76) scale(1.2,1)" font-size="15.00" letter-spacing="0.00" fill="#6a6a6a" >1</text>
<text transform="translate(549.05,542.86) scale(1.2,1)" font-size="15.00" letter-spacing="0.00" fill="#6a6a6a" >1</text>
<text transform="translate(578.59,558.46) scale(1.2,1)" font-size="15.00" letter-spacing="0.00" fill="#6a6a6a" >2</text>
<text transform="translate(52.95,712.16) scale(1.2,1)" font-size="15.00" letter-spacing="0.00" fill="#6a6a6a" >4</text>
<text transform="translate(52.91,732.66) scale(1.2,1)" font-size="15.00" letter-spacing="0.00" fill="#6a6a6a" >5</text>
<text transform="translate(52.83,752.66) scale(1.2,1)" font-size="15.00" letter-spacing="0.00" fill="#6a6a6a" >6</text>
<text transform="translate(375.79,727.66) scale(1.2,1)" font-size="15.00" letter-spacing="0.00" fill="#6a6a6a" >2</text>
<text transform="translate(616.55,727.66) scale(1.2,1)" font-size="15.00" letter-spacing="0.00" fill="#6a6a6a" >3</text>
</g>
</svg>
</body></html>
